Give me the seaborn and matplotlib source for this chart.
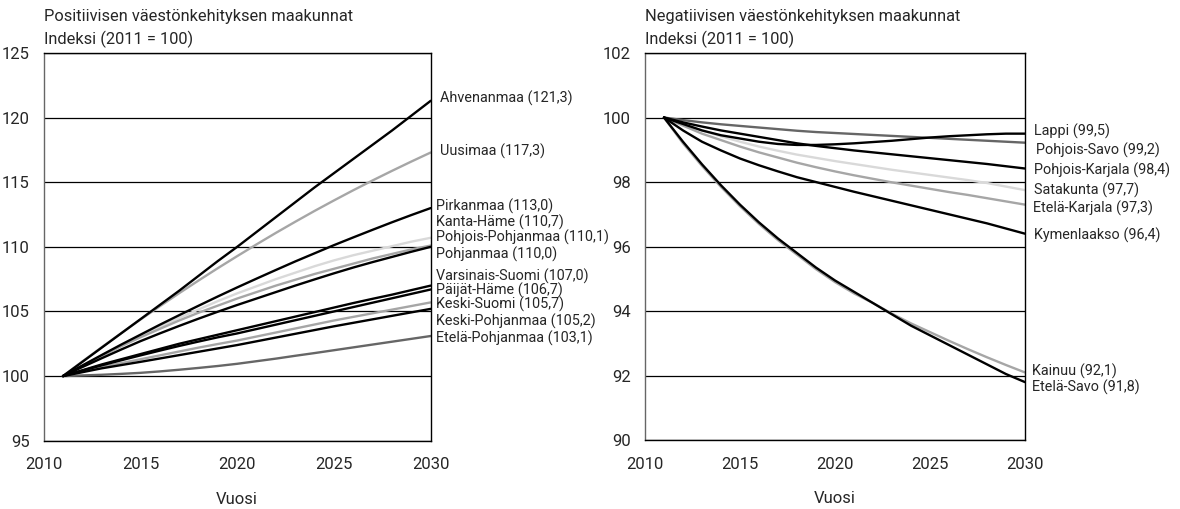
import pandas as pd
import seaborn as sns
import matplotlib.pyplot as plt
from matplotlib.ticker import MultipleLocator

years = list(range(2011, 2031))

# Positiivisen väestönkehityksen maakunnat
ahvenanmaa = [100, 101.1, 102.2, 103.3, 104.4, 105.5, 106.6, 107.75, 108.9, 110.0,
              111.15, 112.3, 113.45, 114.6, 115.7, 116.8, 117.9, 119.0, 120.15, 121.3]
uusimaa = [100, 101.13, 102.23, 103.31, 104.37, 105.4, 106.41, 107.39, 108.35, 109.28,
           110.19, 111.08, 111.94, 112.78, 113.59, 114.38, 115.14, 115.88, 116.6, 117.3]
pirkanmaa = [100, 100.82, 101.63, 102.43, 103.2, 103.97, 104.71, 105.44, 106.16, 106.86,
             107.54, 108.21, 108.87, 109.5, 110.13, 110.73, 111.32, 111.9, 112.46, 113.0]
kanta_hame = [100, 100.8, 101.58, 102.35, 103.1, 103.8, 104.5, 105.15, 105.8, 106.4,
              106.95, 107.5, 108.0, 108.5, 108.95, 109.35, 109.7, 110.05, 110.4, 110.7]
pohjois_pohjanmaa = [100, 100.78, 101.55, 102.3, 103.0, 103.65, 104.3, 104.9, 105.45, 106.0,
                     106.5, 107.0, 107.45, 107.9, 108.3, 108.7, 109.1, 109.45, 109.8, 110.1]
pohjanmaa = [100, 100.7, 101.38, 102.05, 102.7, 103.3, 103.88, 104.44, 104.98, 105.5,
             106.0, 106.5, 107.0, 107.48, 107.95, 108.4, 108.82, 109.22, 109.62, 110.0]
varsinais_suomi = [100, 100.45, 100.9, 101.3, 101.7, 102.1, 102.5, 102.85, 103.2, 103.55,
                   103.9, 104.25, 104.6, 104.95, 105.3, 105.65, 105.98, 106.3, 106.65, 107.0]
paijat_hame = [100, 100.42, 100.83, 101.22, 101.6, 101.97, 102.33, 102.67, 103.0, 103.3,
               103.64, 103.98, 104.32, 104.66, 105.0, 105.34, 105.68, 106.02, 106.36, 106.7]
keski_suomi = [100, 100.35, 100.7, 101.0, 101.3, 101.6, 101.9, 102.2, 102.48, 102.75,
               103.06, 103.37, 103.68, 103.99, 104.3, 104.58, 104.86, 105.14, 105.42, 105.7]
keski_pohjanmaa = [100, 100.3, 100.6, 100.85, 101.1, 101.36, 101.62, 101.88, 102.14, 102.4,
                   102.69, 102.98, 103.27, 103.56, 103.85, 104.12, 104.39, 104.66, 104.93, 105.2]
etela_pohjanmaa = [100, 100.05, 100.1, 100.17, 100.25, 100.36, 100.49, 100.63, 100.78, 100.95,
                   101.15, 101.35, 101.57, 101.78, 102.0, 102.22, 102.44, 102.66, 102.88, 103.1]

# Negatiivisen väestönkehityksen maakunnat
lappi = [100, 99.8, 99.6, 99.45, 99.35, 99.25, 99.18, 99.15, 99.15, 99.17,
         99.2, 99.24, 99.28, 99.33, 99.38, 99.42, 99.45, 99.48, 99.5, 99.5]
pohjois_savo = [100, 99.92, 99.85, 99.79, 99.74, 99.69, 99.64, 99.59, 99.55, 99.52,
                99.49, 99.46, 99.43, 99.4, 99.37, 99.34, 99.31, 99.28, 99.25, 99.22]
pohjois_karjala = [100, 99.85, 99.72, 99.6, 99.5, 99.4, 99.3, 99.2, 99.12, 99.05,
                   98.98, 98.92, 98.86, 98.8, 98.74, 98.68, 98.62, 98.56, 98.49, 98.42]
satakunta = [100, 99.8, 99.6, 99.42, 99.25, 99.1, 98.97, 98.85, 98.75, 98.65,
             98.56, 98.47, 98.38, 98.3, 98.22, 98.14, 98.06, 97.97, 97.86, 97.75]
etela_karjala = [100, 99.75, 99.5, 99.3, 99.1, 98.92, 98.76, 98.6, 98.46, 98.33,
                 98.21, 98.1, 97.99, 97.89, 97.79, 97.69, 97.6, 97.5, 97.4, 97.3]
kymenlaakso = [100, 99.6, 99.25, 98.98, 98.73, 98.52, 98.33, 98.15, 98.0, 97.85,
               97.7, 97.56, 97.42, 97.28, 97.14, 97.0, 96.86, 96.72, 96.56, 96.4]
kainuu = [100, 99.2, 98.5, 97.85, 97.25, 96.7, 96.2, 95.75, 95.3, 94.9,
          94.55, 94.25, 93.92, 93.62, 93.35, 93.08, 92.82, 92.57, 92.33, 92.1]
etela_savo = [100, 99.25, 98.55, 97.9, 97.3, 96.75, 96.25, 95.8, 95.35, 94.95,
              94.6, 94.25, 93.9, 93.55, 93.25, 92.95, 92.65, 92.35, 92.05, 91.8]

pos_names = ['Ahvenanmaa', 'Uusimaa', 'Pirkanmaa', 'Kanta-Häme', 'Pohjois-Pohjanmaa',
             'Pohjanmaa', 'Varsinais-Suomi', 'Päijät-Häme', 'Keski-Suomi',
             'Keski-Pohjanmaa', 'Etelä-Pohjanmaa']
pos_values = [ahvenanmaa, uusimaa, pirkanmaa, kanta_hame, pohjois_pohjanmaa, pohjanmaa,
              varsinais_suomi, paijat_hame, keski_suomi, keski_pohjanmaa, etela_pohjanmaa]
pos_labels = ['121,3', '117,3', '113,0', '110,7', '110,1', '110,0', '107,0', '106,7',
              '105,7', '105,2', '103,1']

neg_names = ['Lappi', 'Pohjois-Savo', 'Pohjois-Karjala', 'Satakunta', 'Etelä-Karjala',
             'Kymenlaakso', 'Kainuu', 'Etelä-Savo']
neg_values = [lappi, pohjois_savo, pohjois_karjala, satakunta, etela_karjala,
              kymenlaakso, kainuu, etela_savo]
neg_labels = ['99,5', '99,2', '98,4', '97,7', '97,3', '96,4', '92,1', '91,8']

BLACK, GRAY, LIGHT, DARK = '#000000', '#a6a6a6', '#d9d9d9', '#666666'
pos_colors = [BLACK, GRAY, BLACK, LIGHT, GRAY, BLACK, BLACK, BLACK, GRAY, BLACK, DARK]
neg_colors = [BLACK, DARK, BLACK, LIGHT, GRAY, BLACK, GRAY, BLACK]

# where the end labels sit (data units)
pos_label_y = [121.5, 117.4, 113.15, 111.9, 110.75, 109.4, 107.75, 106.6, 105.55, 104.2, 102.9]
neg_label_y = [99.56, 98.99, 98.35, 97.75, 97.18, 96.34, 92.12, 91.65]


def to_long(names, values):
    rows = []
    for name, vals in zip(names, values):
        for yr, v in zip(years, vals):
            rows.append({'Vuosi': yr, 'Indeksi': v, 'Maakunta': name})
    return pd.DataFrame(rows)


def draw_panel(ax, names, values, colors, labels, label_y, title, ylim, ystep, label_dx):
    df = to_long(names, values)
    # light lines first so the dark ones sit on top
    order = sorted(range(len(names)),
                   key=lambda i: {LIGHT: 0, GRAY: 1, DARK: 2, BLACK: 3}[colors[i]])
    hue_order = [names[i] for i in order]
    palette = {n: c for n, c in zip(names, colors)}
    sns.lineplot(data=df, x='Vuosi', y='Indeksi', hue='Maakunta', hue_order=hue_order,
                 palette=palette, legend=False, linewidth=1.7, ax=ax)
    ax.set_xlim(2010, 2030)
    ax.set_ylim(*ylim)
    ax.xaxis.set_major_locator(MultipleLocator(5))
    ax.xaxis.set_minor_locator(MultipleLocator(1))
    ax.yaxis.set_major_locator(MultipleLocator(ystep))
    ax.tick_params(axis='x', which='both', direction='out', length=5, width=1,
                   color='black', labelsize=12, pad=7)
    ax.tick_params(axis='y', length=0, labelsize=12, pad=10)
    ax.grid(True, axis='y', color='black', linewidth=0.9)
    ax.grid(False, axis='x')
    ax.set_axisbelow(True)
    for sp in ax.spines.values():
        sp.set_visible(True)
        sp.set_color('black')
        sp.set_linewidth(1)
    ax.spines['left'].set_color('#666666')
    ax.set_xlabel('Vuosi', fontsize=12, labelpad=14)
    ax.set_ylabel('')
    ax.text(0, 1.034, 'Indeksi (2011 = 100)', transform=ax.transAxes,
            fontsize=11.8, ha='left', va='center')
    ax.text(0, 1.093, title, transform=ax.transAxes,
            fontsize=11.8, ha='left', va='center')
    for name, lab, ly, dx in zip(names, labels, label_y, label_dx):
        ax.annotate(f'{name} ({lab})', xy=(2030, ly), xycoords='data',
                    xytext=(dx, 0), textcoords='offset pixels',
                    fontsize=10.4, ha='left', va='center', annotation_clip=False)


def main():
    sns.set_style('white')
    plt.rcParams['font.family'] = ['Roboto', 'DejaVu Sans']

    fig = plt.figure(figsize=(11.8, 5.09), dpi=100)
    ax1 = fig.add_axes([0.037, 0.1342, 0.328, 0.7617])
    ax2 = fig.add_axes([0.5466, 0.1352, 0.322, 0.7607])

    draw_panel(ax1, pos_names, pos_values, pos_colors, pos_labels, pos_label_y,
               'Positiivisen väestönkehityksen maakunnat', (95, 125), 5,
               [9, 9] + [5] * 9)
    draw_panel(ax2, neg_names, neg_values, neg_colors, neg_labels, neg_label_y,
               'Negatiivisen väestönkehityksen maakunnat', (90, 102), 2,
               [9, 11, 9, 9, 8, 9, 7, 7])

    fig.savefig('out.png', dpi=100)


if __name__ == '__main__':
    main()
